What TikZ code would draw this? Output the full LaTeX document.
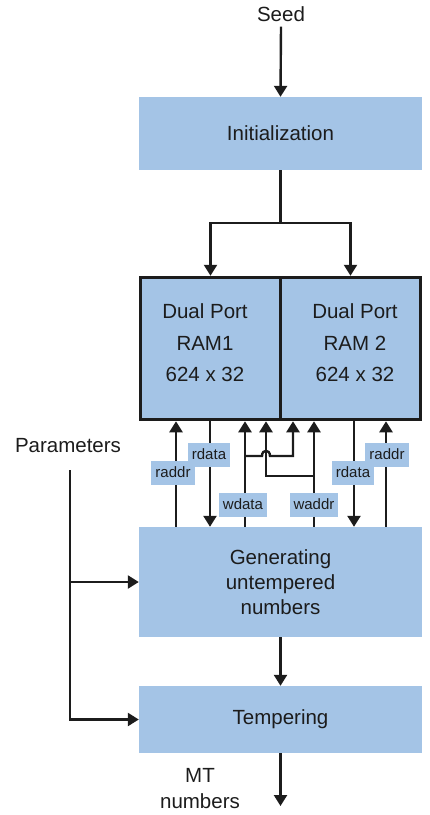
\documentclass[tikz,border=0pt]{standalone}
\usepackage{fontspec}
\setmainfont{Liberation Sans}
\usetikzlibrary{arrows.meta}
\definecolor{boxblue}{RGB}{164,196,230}
\definecolor{ink}{RGB}{28,28,28}

\begin{document}
\begin{tikzpicture}[x=1pt,y=-1pt,
  wire/.style={draw=ink, line width=2.4pt},
  arr/.style={wire, -{Triangle[width=13pt,length=11pt]}},
  block/.style={fill=boxblue, minimum width=283pt, inner sep=0pt, align=center,
    text=ink, font=\fontsize{20.5}{25}\selectfont},
  ram/.style={fill=boxblue, draw=ink, line width=3.5pt, minimum width=140pt,
    minimum height=142pt, inner sep=0pt},
  ramtext/.style={text=ink, align=center, inner sep=0pt, font=\fontsize{20.5}{31.5}\selectfont},
  tag/.style={fill=boxblue, text=ink, font=\fontsize{15}{15}\selectfont,
    inner xsep=4pt, inner ysep=0pt, minimum height=24pt, text height=11pt, text depth=3pt},
  plain/.style={text=ink, font=\fontsize{20.5}{26}\selectfont, align=center, inner sep=0pt}]

\useasboundingbox (0,0) rectangle (429,815);

% blocks
\node[plain] (seed) at (281,14) {Seed};
\node[block, minimum height=73pt] (init) at (280.5,133.5) {Initialization};
\node[ram] (ram1) at (210.5,348.5) {};
\node[ram] (ram2) at (350.5,348.5) {};
\node[ramtext] (ram1txt) at (205,343) {Dual Port\\RAM1\\624 x 32};
\node[ramtext] (ram2txt) at (355,343) {Dual Port\\RAM 2\\624 x 32};
\node[block, minimum height=110pt] (gen) at (280.5,582) {Generating\\untempered\\numbers};
\node[block, minimum height=67pt] (temp) at (280.5,719.5) {Tempering};
\node[plain] (params) at (68,446) {Parameters};
\node[plain] (mt) at (200,789) {MT\\numbers};

% helper points
\coordinate (split) at (280.5,223);
\coordinate (xA) at (176,0);
\coordinate (xB) at (210,0);
\coordinate (xC) at (245,0);
\coordinate (xD) at (266,0);
\coordinate (xE) at (293,0);
\coordinate (xF) at (314,0);
\coordinate (xG) at (354,0);
\coordinate (xH) at (386,0);
\coordinate (wj) at (245,456);
\coordinate (aj) at (314,476);
\coordinate (pTop) at (70,470);
\coordinate (mtEnd) at (280.5,806);

% seed and initialization
\draw[arr] ([yshift=-5pt]seed.south) -- (init.north);
\draw[wire] (init.south) -- (split);
\draw[arr] (split) -| (ram1.north);
\draw[arr] (split) -| (ram2.north);

% RAM 1 ports
\draw[arr] (gen.north -| xA) -- (ram1.south -| xA);
\draw[arr] (ram1.south -| xB) -- (gen.north -| xB);
\draw[arr] (gen.north -| xC) -- (ram1.south -| xC);
\draw[arr] (wj) -- (262,456) .. controls (262,449) and (270,449) .. (270,456)
  -- (293,456) -- (ram2.south -| xE);
% RAM 2 ports
\draw[arr] (gen.north -| xF) -- (ram2.south -| xF);
\draw[arr] (aj) -| (ram1.south -| xD);
\draw[arr] (ram2.south -| xG) -- (gen.north -| xG);
\draw[arr] (gen.north -| xH) -- (ram2.south -| xH);

% port labels
\node[tag] (l1) at (173,473) {raddr};
\node[tag] (l2) at (209,455) {rdata};
\node[tag] (l3) at (243,505) {wdata};
\node[tag] (l4) at (314,505) {waddr};
\node[tag] (l5) at (353,473) {rdata};
\node[tag] (l6) at (387,455) {raddr};

% pipeline
\draw[arr] (gen.south) -- (temp.north);
\draw[arr] (temp.south) -- (mtEnd);

% parameters
\draw[arr] (pTop) |- (temp.west);
\draw[arr] (pTop |- gen.west) -- (gen.west);
\end{tikzpicture}
\end{document}
